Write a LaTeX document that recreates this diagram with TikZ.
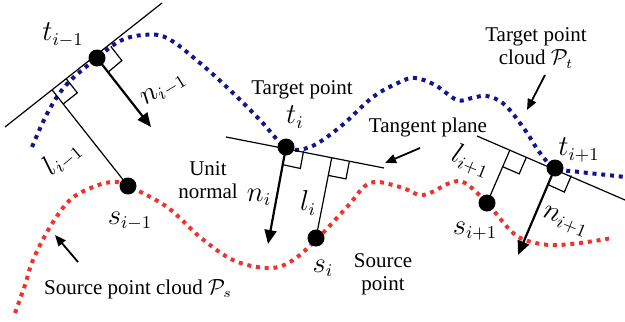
\documentclass[tikz,border=0pt]{standalone}
\usepackage{fontspec}
\setmainfont{Liberation Serif}
\usetikzlibrary{arrows.meta,calc}
\definecolor{tgtblue}{RGB}{20,20,140}
\definecolor{srcred}{RGB}{240,50,45}

\newcommand{\perpbox}[3]{%
  \coordinate (pbA) at ($(#1)!9pt!(#2)$);
  \coordinate (pbC) at ($(#1)!9pt!(#3)$);
  \draw[tanline] (pbA) -- ($(pbA)+(pbC)-(#1)$) -- (pbC);
}

\begin{document}
\begin{tikzpicture}[x=0.5pt,y=-0.5pt,
  ptdot/.style={circle, fill=black, minimum size=8.5pt, inner sep=0pt},
  tgtcloud/.style={tgtblue, line width=2pt, dash pattern=on 2pt off 2.4pt},
  srccloud/.style={srcred, line width=2pt, dash pattern=on 2pt off 2.4pt},
  tanline/.style={line width=0.6pt},
  unitnormal/.style={-{Triangle[length=7pt,width=6pt]}, line width=1.1pt},
  pointer/.style={-{Triangle[length=5.5pt,width=4.5pt]}, line width=0.9pt},
  lbl/.style={font=\fontsize{10.5}{11.5}\selectfont, align=center, inner sep=1pt},
  sym/.style={font=\fontsize{13.5}{15}\selectfont, inner sep=0pt}
]
  \useasboundingbox (0,0) rectangle (625,321);

  \draw[tgtcloud] plot[smooth, tension=0.6] coordinates {(32,147) (48,112) (67,84) (97,58) (120,41) (143,35) (167,38) (200,63) (233,93) (260,120) (286,147) (310,147) (340,127) (373,97) (400,82) (415,78) (435,85) (457,100) (472,98) (487,96) (505,105) (525,130) (540,153) (555,168) (580,172) (607,175) (625,177)};
  \draw[srccloud] plot[smooth, tension=0.6] coordinates {(15,313) (25,285) (33,260) (50,227) (70,200) (93,187) (113,182) (128,186) (167,207) (200,237) (233,260) (267,268) (290,262) (316,240) (347,207) (370,183) (400,187) (423,195) (450,183) (465,183) (487,203) (510,230) (525,240) (550,245) (580,243) (612,238)};

  \coordinate (ta) at (97,58);
  \coordinate (tb) at (286,147);
  \coordinate (tc) at (555,168);
  \coordinate (sa) at (128,186);
  \coordinate (sb) at (316,238);
  \coordinate (sc) at (487,203);

  \coordinate (tana1) at (5,127);
  \coordinate (tana2) at (162,3);
  \coordinate (tanb1) at (226,137);
  \coordinate (tanb2) at (384,168);
  \coordinate (tanc1) at (477,136);
  \coordinate (tanc2) at (625,200);

  \coordinate (fa) at ($(tana1)!(sa)!(tana2)$);
  \coordinate (fb) at ($(tanb1)!(sb)!(tanb2)$);
  \coordinate (fc) at ($(tanc1)!(sc)!(tanc2)$);

  \coordinate (na) at (151,127);
  \coordinate (nb) at (268,244);
  \coordinate (nc) at (518,255);

  \draw[tanline] (tana1) -- (tana2);
  \draw[tanline] (tanb1) -- (tanb2);
  \draw[tanline] (tanc1) -- (tanc2);

  \draw[tanline] (fa) -- (sa);
  \draw[tanline] (fb) -- (sb);
  \draw[tanline] (fc) -- (sc);

  \perpbox{ta}{tana2}{na}
  \perpbox{fa}{tana2}{sa}
  \perpbox{tb}{tanb2}{nb}
  \perpbox{fb}{tanb2}{sb}
  \perpbox{tc}{tanc2}{nc}
  \perpbox{fc}{tanc2}{sc}

  \draw[unitnormal] (ta) -- (na);
  \draw[unitnormal] (tb) -- (nb);
  \draw[unitnormal] (tc) -- (nc);

  \node[ptdot] (dta) at (ta) {};
  \node[ptdot] (dtb) at (tb) {};
  \node[ptdot] (dtc) at (tc) {};
  \node[ptdot] (dsa) at (sa) {};
  \node[ptdot] (dsb) at (sb) {};
  \node[ptdot] (dsc) at (sc) {};

  \node[sym] (lta) at (63,35) {$t_{i-1}$};
  \node[sym, rotate=32] (lna) at (164,90) {$n_{i-1}$};
  \node[sym, rotate=40] (lla) at (62,158) {$l_{i-1}$};
  \node[sym] (lsa) at (130,221) {$s_{i-1}$};
  \node[sym] (ltb) at (295,117) {$t_i$};
  \node[sym] (lnb) at (259,197) {$n_i$};
  \node[sym] (llb) at (308,203) {$l_i$};
  \node[sym] (lsb) at (323,268) {$s_i$};
  \node[sym] (ltc) at (579,150) {$t_{i+1}$};
  \node[sym, rotate=-22] (lnc) at (565,222) {$n_{i+1}$};
  \node[sym, rotate=-22] (llc) at (471,161) {$l_{i+1}$};
  \node[sym] (lsc) at (475,231) {$s_{i+1}$};

  \node[lbl] (tgtpt) at (302,90) {Target point};
  \node[lbl] (tanpl) at (428,127) {Tangent plane};
  \node[lbl] (unorm) at (208,180) {Unit\\normal};
  \node[lbl] (srcpt) at (383,274) {Source\\point};
  \node[lbl] (tgtcl) at (536,48) {Target point\\cloud $\mathcal{P}_t$};
  \node[lbl] (srccl) at (138,289) {Source point cloud $\mathcal{P}_s$};

  \coordinate (tanpl-tail) at (420,148);
  \coordinate (tanpl-tip) at (385,163);
  \coordinate (tgtcl-tail) at (545,75);
  \coordinate (tgtcl-tip) at (527,110);
  \coordinate (srccl-tail) at (78,262);
  \coordinate (srccl-tip) at (55,235);
  \draw[pointer] (tanpl-tail) -- (tanpl-tip);
  \draw[pointer] (tgtcl-tail) -- (tgtcl-tip);
  \draw[pointer] (srccl-tail) -- (srccl-tip);
\end{tikzpicture}
\end{document}
